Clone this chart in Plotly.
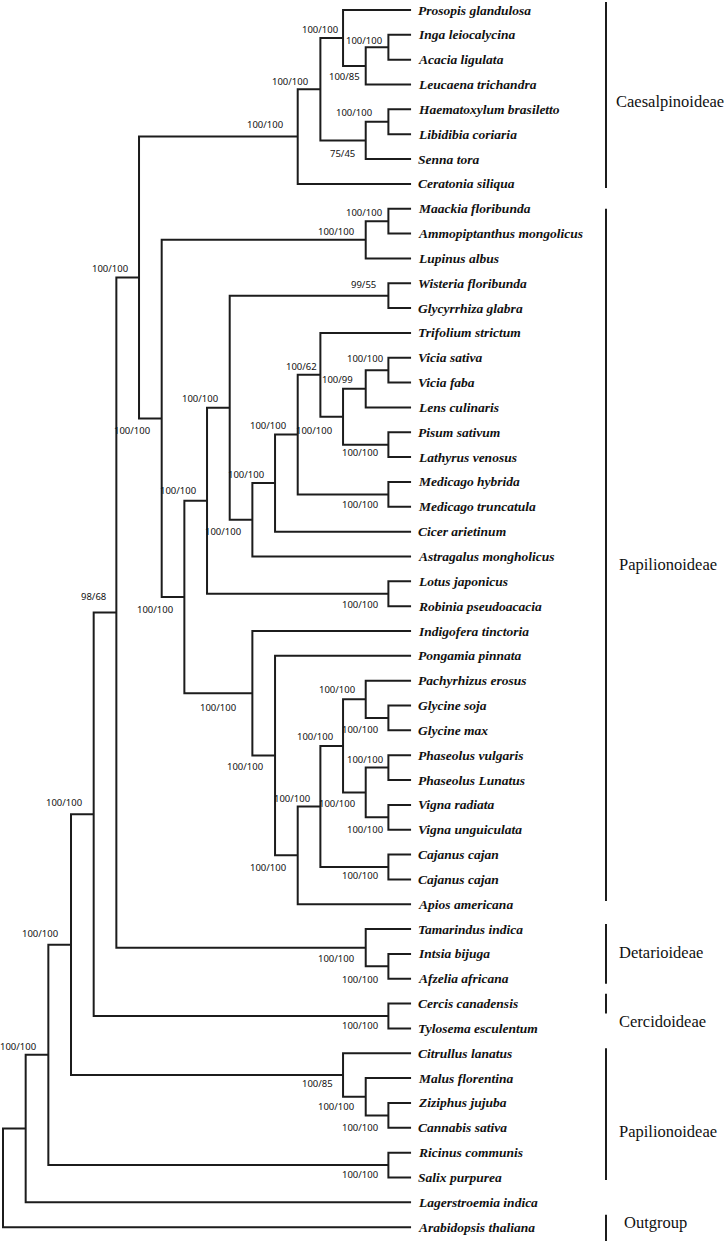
import plotly.graph_objects as go

# ---------------- data ----------------
leaf_names = [
    "Prosopis glandulosa", "Inga leiocalycina", "Acacia ligulata", "Leucaena trichandra",
    "Haematoxylum brasiletto", "Libidibia coriaria", "Senna tora", "Ceratonia siliqua",
    "Maackia floribunda", "Ammopiptanthus mongolicus", "Lupinus albus",
    "Wisteria floribunda", "Glycyrrhiza glabra", "Trifolium strictum", "Vicia sativa",
    "Vicia faba", "Lens culinaris", "Pisum sativum", "Lathyrus venosus",
    "Medicago hybrida", "Medicago truncatula", "Cicer arietinum", "Astragalus mongholicus",
    "Lotus japonicus", "Robinia pseudoacacia", "Indigofera tinctoria", "Pongamia pinnata",
    "Pachyrhizus erosus", "Glycine soja", "Glycine max", "Phaseolus vulgaris",
    "Phaseolus Lunatus", "Vigna radiata", "Vigna unguiculata", "Cajanus cajan",
    "Cajanus cajan", "Apios americana", "Tamarindus indica", "Intsia bijuga",
    "Afzelia africana", "Cercis canadensis", "Tylosema esculentum", "Citrullus lanatus",
    "Malus florentina", "Ziziphus jujuba", "Cannabis sativa", "Ricinus communis",
    "Salix purpurea", "Lagerstroemia indica", "Arabidopsis thaliana",
]

# internal nodes in post-order: id, children (leaf index or node id), depth level, support
node_ids = ["n%d" % k for k in range(1, 49)] + ["root"]
node_children = [
    (1, 2), ("n1", 3), (0, "n2"), (4, 5), ("n4", 6), ("n3", "n5"), ("n6", 7),
    (8, 9), ("n8", 10), (11, 12), (14, 15), ("n11", 16), (17, 18), ("n12", "n13"),
    (13, "n14"), (19, 20), ("n15", "n16"), ("n17", 21), ("n18", 22), ("n10", "n19"),
    (23, 24), ("n20", "n21"), (28, 29), (27, "n23"), (30, 31), (32, 33), ("n25", "n26"),
    ("n24", "n27"), (34, 35), ("n28", "n29"), ("n30", 36), (26, "n31"), (25, "n32"),
    ("n22", "n33"), ("n9", "n34"), ("n7", "n35"), (38, 39), (37, "n37"), ("n36", "n38"),
    (40, 41), ("n39", "n40"), (44, 45), (43, "n42"), (42, "n43"), ("n41", "n44"),
    (46, 47), ("n45", "n46"), ("n47", 48), ("n48", 49),
]
node_levels = [
    17, 16, 15, 17, 16, 14, 13,
    17, 16, 17, 17, 16, 17, 15,
    14, 17, 13, 12, 11, 10,
    17, 9, 17, 16, 17, 17, 16,
    15, 17, 14, 13, 12, 11,
    8, 7, 6, 17, 16, 5,
    17, 4, 17, 16, 15, 3,
    17, 2, 1, 0,
]
node_support = [
    "100/100", "100/85", "100/100", "100/100", "75/45", "100/100", "100/100",
    "100/100", "100/100", "99/55", "100/100", "100/99", "100/100", "100/100",
    "100/62", "100/100", "100/100", "100/100", "100/100", "100/100",
    "100/100", "100/100", "100/100", "100/100", "100/100", "100/100", "100/100",
    "100/100", "100/100", "100/100", "100/100", "100/100", "100/100",
    "100/100", "100/100", "100/100", "100/100", "100/100", "98/68",
    "100/100", "100/100", "100/100", "100/100", "100/85", "100/100",
    "100/100", "100/100", "", "",
]
tip_level = 18

clade_names = ["Caesalpinoideae", "Papilionoideae", "Detarioideae",
               "Cercidoideae", "Papilionoideae", "Outgroup"]
clade_first_leaf = [0, 8, 37, 40, 42, 49]
clade_last_leaf = [7, 36, 39, 41, 48, 49]

# ---------------- placement / style (pixels) ----------------
support_dx = [
    -24, -21, -23, -34, -23, -30, -33,
    -24, -30, -25, -23, -28, -28, -29,
    -19, -28, -30, -29, -29, -30,
    -28, -29, -28, -29, -23, -23, -29,
    -28, -28, -28, -30, -30, -34,
    -29, -30, -29, -28, -30, -23,
    -28, -30, -28, -30, -26, -31,
    -28, -30, 0, 0,
]
support_dy = [
    -7, 11, -8, -9, 13, -8, -12,
    -9, -8, -11, -12, -9, 8, 14,
    -8, 10, -9, -9, 12, -9,
    11, -10, 12, -10, -8, 12, 11,
    -9, 9, -8, 12, 11, 14,
    12, 12, -9, 13, 11, -16,
    9, -12, 12, 10, 8, -11,
    9, -8, 0, 0,
]
clade_bar_pad = [(-0.32, 0.17), (0.0, -0.13), (-0.2, 0.2), (-0.4, -0.6), (-0.2, -0.9), (-0.5, 0.6)]
clade_text_y = [3.7, 22.34, 37.96, 40.74, 45.13, 48.83]
clade_text_shift = [8, 11, 11, 11, 11, 16]

PX_LEVEL = 22.67
PX_LEAF = 24.84
W, H = 724, 1241
x0 = -3 / PX_LEVEL
y0 = -10 / PX_LEAF
bar_x = (606 - 3) / PX_LEVEL
LINE = "#1c1c1c"

# ---------------- layout of the tree ----------------
pos = {i: (tip_level, i) for i in range(len(leaf_names))}
for nid, ch, lvl in zip(node_ids, node_children, node_levels):
    pos[nid] = (lvl, sum(pos[c][1] for c in ch) / len(ch))

xs, ys = [], []
for nid, ch, lvl in zip(node_ids, node_children, node_levels):
    c1, c2 = ch
    (x1, y1), (x2, y2) = pos[c1], pos[c2]
    xs += [x1, lvl, lvl, x2, None]
    ys += [y1, y1, y2, y2, None]

fig = go.Figure()
fig.add_trace(go.Scatter(x=xs, y=ys, mode="lines",
                         line=dict(color=LINE, width=2),
                         hoverinfo="skip", showlegend=False))

# clade bars
bx, by = [], []
for f, l, (pt, pb) in zip(clade_first_leaf, clade_last_leaf, clade_bar_pad):
    bx += [bar_x, bar_x, None]
    by += [f + pt, l + pb, None]
fig.add_trace(go.Scatter(x=bx, y=by, mode="lines",
                         line=dict(color=LINE, width=2),
                         hoverinfo="skip", showlegend=False))

ann = []
for i, name in enumerate(leaf_names):
    ann.append(dict(x=tip_level, y=i, text="<b><i>%s</i></b>" % name,
                    xanchor="left", yanchor="middle", xshift=5, showarrow=False,
                    font=dict(family="Liberation Serif, Times New Roman, serif",
                              size=13.5, color="#111111")))

for nid, sup, dx, dy in zip(node_ids, node_support, support_dx, support_dy):
    if not sup:
        continue
    x, y = pos[nid]
    ann.append(dict(x=x, y=y, text=sup, xanchor="center", yanchor="middle",
                    xshift=dx, yshift=-dy, showarrow=False,
                    font=dict(family="Noto Sans, DejaVu Sans, sans-serif",
                              size=9.5, color="#111111")))

for name, ty, sh in zip(clade_names, clade_text_y, clade_text_shift):
    ann.append(dict(x=bar_x, y=ty, text=name, xanchor="left", yanchor="middle",
                    xshift=sh, showarrow=False,
                    font=dict(family="Liberation Serif, Times New Roman, serif",
                              size=16.5, color="#111111")))

fig.update_layout(
    width=W, height=H,
    margin=dict(l=0, r=0, t=0, b=0),
    paper_bgcolor="white", plot_bgcolor="white",
    showlegend=False,
    annotations=ann,
    xaxis=dict(range=[x0, x0 + W / PX_LEVEL], visible=False, fixedrange=True),
    yaxis=dict(range=[y0 + H / PX_LEAF, y0], visible=False, fixedrange=True),
)

fig.write_html("out.html", config={"displayModeBar": False},
               post_script="document.body.style.margin='0';")
